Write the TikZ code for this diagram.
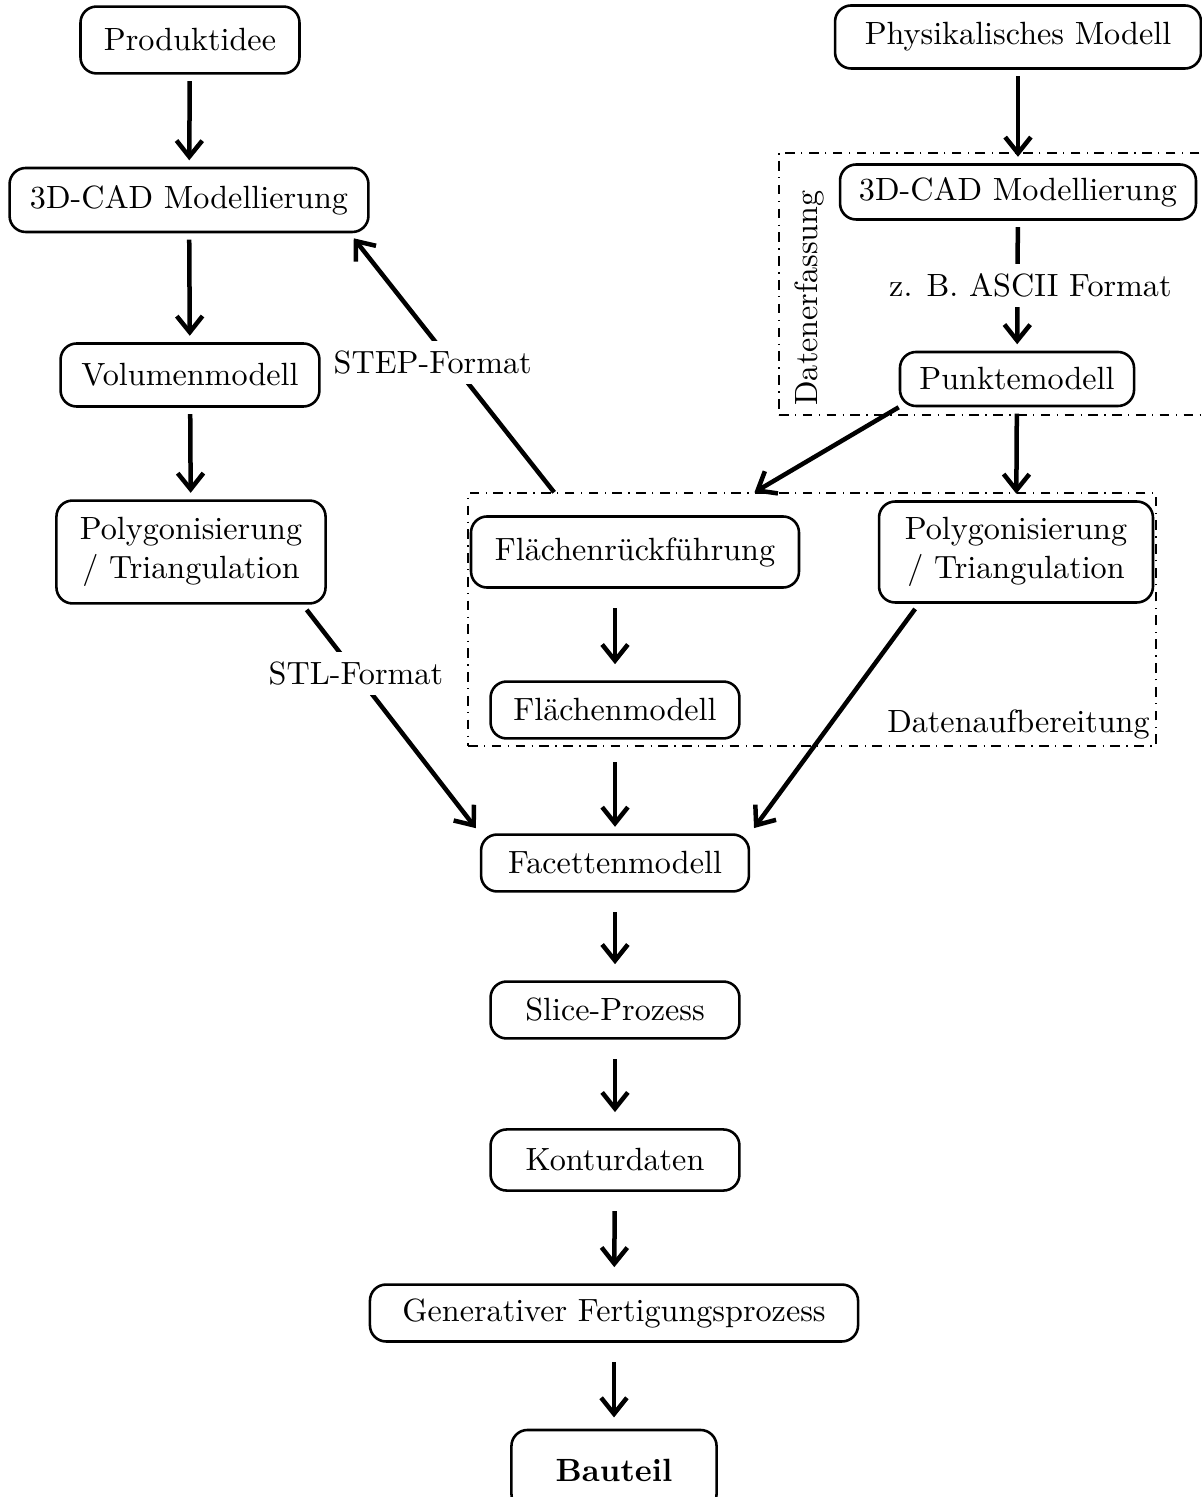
\documentclass[tikz,border=0pt]{standalone}
\usetikzlibrary{positioning,arrows.meta}

\tikzset{
  box/.style={draw, rounded corners=5pt, thick, align=center, inner xsep=5pt},
  gruppe/.style={draw, dash dot, inner sep=0pt},
  pfeil/.style={-{Straight Barb[length=5pt,width=8pt]}, line width=1.4pt, shorten >=2pt, shorten <=2pt},
  weit/.style={shorten <=6pt, shorten >=5pt},
  marke/.style={fill=white, inner sep=3pt}
}

\begin{document}
\begin{tikzpicture}[x=0.311pt, y=-0.311pt]
  \useasboundingbox (0,0) rectangle (1201,1497);

  %Define groups
  \node[gruppe, minimum width=135.6pt, minimum height=81.5pt] (erf) at (997,284) {};
  \node[gruppe, minimum width=214pt, minimum height=78.7pt] (aufb) at (812,619.5) {};
  \node[rotate=90] (erflabel) at (809,298) {Datenerfassung};
  \node[anchor=south east, inner sep=2pt] (aufblabel) at (aufb.south east) {Datenaufbereitung};

  %Define nodes, left
  \node[box, minimum width=68.1pt, minimum height=20.8pt] (idee) at (190,40) {Produktidee};
  \node[box, minimum width=111.6pt, minimum height=19.9pt] (cadl) at (189,200) {3D-CAD Modellierung};
  \node[box, minimum width=80.5pt, minimum height=19.6pt] (vol) at (190,375) {Volumenmodell};
  \node[box, minimum width=83.7pt, minimum height=32pt] (polyl) at (191,552) {Polygonisierung\\ / Triangulation};

  %Define nodes, right
  \node[box, minimum width=113.8pt, minimum height=19.6pt] (phys) at (1018,37) {Physikalisches Modell};
  \node[box, minimum width=110.7pt, minimum height=17.1pt] (cadr) at (1018,192) {3D-CAD Modellierung};
  \node[box, minimum width=72.8pt, minimum height=16.8pt] (punkt) at (1017,379) {Punktemodell};
  \node[box, minimum width=85.2pt, minimum height=31.4pt] (polyr) at (1016,552) {Polygonisierung\\ / Triangulation};

  %Define nodes, middle
  \node[box, minimum width=102pt, minimum height=22.1pt] (flr) at (635,552) {Flächenrückführung};
  \node[box, minimum width=77.4pt, minimum height=17.7pt] (flm) at (615,710) {Flächenmodell};
  \node[box, minimum width=83.3pt, minimum height=17.7pt] (fac) at (615,863) {Facettenmodell};
  \node[box, minimum width=77.4pt, minimum height=17.7pt] (slice) at (615,1010) {Slice-Prozess};
  \node[box, minimum width=77.4pt, minimum height=19pt] (kontur) at (615,1160) {Konturdaten};
  \node[box, minimum width=151.8pt, minimum height=17.7pt] (gen) at (614,1313) {Generativer Fertigungsprozess};
  \node[box, minimum width=63.8pt, minimum height=24.9pt] (teil) at (614,1470) {\textbf{Bauteil}};

  % Connect the nodes
  \draw[pfeil] (idee) -- (cadl);
  \draw[pfeil] (cadl) -- (vol);
  \draw[pfeil] (vol) -- (polyl);
  \draw[pfeil] ([xshift=-7.5pt]polyl.south east) -- node[marke, pos=0.3] {STL-Format} (fac.north west);
  \draw[pfeil, shorten <=0pt] ([xshift=27pt]aufb.north west) -- node[marke, pos=0.5, xshift=-6pt] {STEP-Format} ([xshift=-6.2pt]cadl.south east);

  \draw[pfeil] (phys) -- (cadr);
  \draw[pfeil] (cadr) -- node[marke, xshift=4pt] {z. B. ASCII Format} (punkt);
  \draw[pfeil, shorten <=0pt, shorten >=0pt] (punkt.south west) -- ([xshift=89.3pt]aufb.north west);
  \draw[pfeil] (punkt) -- (polyr);

  \draw[pfeil, weit] (flr.south -| flm.north) -- (flm.north);
  \draw[pfeil, shorten <=7pt] (flm) -- (fac);
  \draw[pfeil] ([xshift=12.8pt]polyr.south west) -- (fac.north east);

  \draw[pfeil, weit] (fac) -- (slice);
  \draw[pfeil, weit] (slice) -- (kontur);
  \draw[pfeil, weit] (kontur) -- (gen);
  \draw[pfeil, weit, shorten >=3.5pt] (gen) -- (teil);
\end{tikzpicture}
\end{document}
